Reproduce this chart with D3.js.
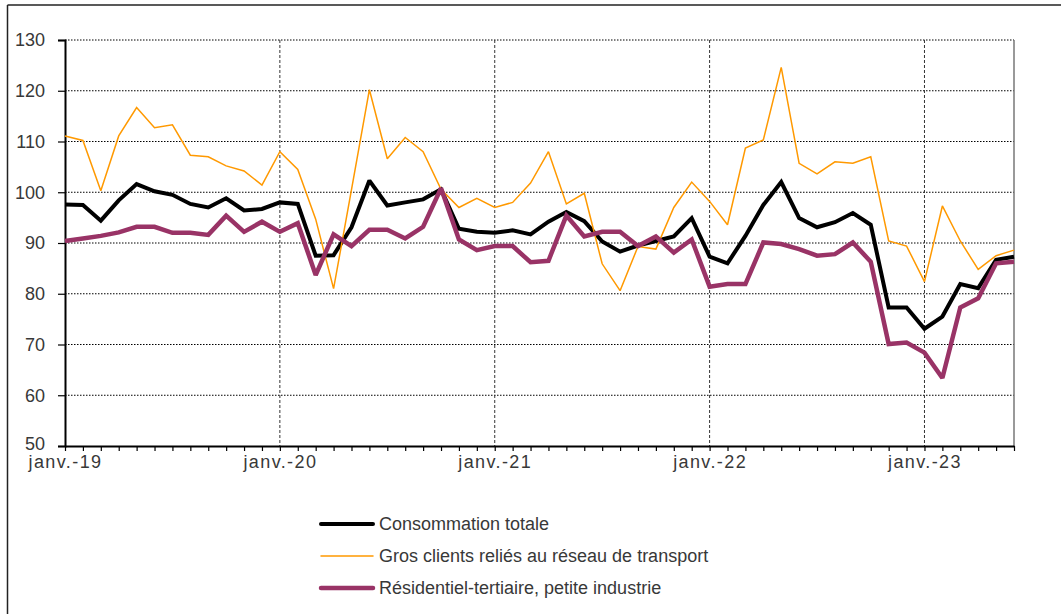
<!DOCTYPE html>
<html>
<head>
<meta charset="utf-8">
<script src="https://cdn.jsdelivr.net/npm/d3@7"></script>
<style>
body { margin: 0; background: #fff; }
text { font-family: "Liberation Sans", Arial, sans-serif; fill: #383838; }
</style>
</head>
<body>
<div id="chart"></div>
<script>

// months jan 2019 -> jun 2023
var months = d3.timeMonth.range(new Date(2019, 0, 1), new Date(2023, 6, 1));
var yearTicks = ["janv.-19", "janv.-20", "janv.-21", "janv.-22", "janv.-23"];
var yTicks = [50, 60, 70, 80, 90, 100, 110, 120, 130];

var totale = [97.6, 97.5, 94.4, 98.4, 101.6, 100.2, 99.5, 97.7, 97.0, 98.8, 96.4, 96.7,
	98.0, 97.7, 87.5, 87.6, 93.1, 102.3, 97.4, 98.0, 98.6, 100.6, 92.8, 92.2,
	92.0, 92.5, 91.7, 94.2, 96.1, 94.3, 90.3, 88.3, 89.5, 90.4, 91.3, 94.9,
	87.3, 86.0, 91.4, 97.5, 102.0, 94.9, 93.1, 94.1, 95.9, 93.6, 77.3, 77.3,
	73.1, 75.5, 81.9, 81.1, 86.7, 87.3];

var grosClients = [111.1, 110.2, 100.3, 111.1, 116.7, 112.7, 113.3, 107.3, 107.0, 105.2, 104.2, 101.4,
	108.0, 104.5, 94.7, 81.0, 100.5, 120.2, 106.6, 110.8, 108.0, 100.6, 97.0, 98.8,
	97.0, 98.0, 101.8, 108.0, 97.7, 99.8, 85.9, 80.6, 89.3, 88.8, 97.0, 102.0,
	98.2, 93.6, 108.7, 110.3, 124.6, 105.7, 103.6, 106.0, 105.7, 107.0, 90.4, 89.4,
	82.4, 97.3, 90.4, 84.8, 87.5, 88.6];

var residentiel = [90.4, 90.9, 91.4, 92.1, 93.2, 93.2, 92.0, 92.0, 91.6, 95.4, 92.2, 94.2,
	92.2, 93.9, 83.7, 91.7, 89.4, 92.6, 92.6, 90.9, 93.2, 100.8, 90.7, 88.6,
	89.4, 89.4, 86.2, 86.5, 95.4, 91.3, 92.2, 92.2, 89.4, 91.3, 88.1, 90.7,
	81.4, 81.9, 81.9, 90.1, 89.8, 88.8, 87.5, 87.8, 90.1, 86.3, 70.1, 70.4,
	68.4, 63.4, 77.3, 79.1, 86.0, 86.3];

var series = [
	{name: "Consommation totale", values: totale, color: "#000000", width: 4},
	{name: "Gros clients reliés au réseau de transport", values: grosClients, color: "#FF9900", width: 1.5},
	{name: "Résidentiel-tertiaire, petite industrie", values: residentiel, color: "#993366", width: 4.5}
];

function drawChart() {
	var W = 1061, H = 614;
	var left = 65, right = 1014, top = 40, bottom = 446;

	var svg = d3.select("#chart").append("svg")
		.attr("width", W)
		.attr("height", H);

	// outer frame (top + left only visible)
	svg.append("line").attr("x1", 7.5).attr("x2", W).attr("y1", 5).attr("y2", 5)
		.attr("stroke", "#222").attr("stroke-width", 1.5);
	svg.append("line").attr("x1", 7.5).attr("x2", 7.5).attr("y1", 5).attr("y2", H)
		.attr("stroke", "#222").attr("stroke-width", 1.5);

	var xScale = d3.scalePoint()
		.domain(d3.range(months.length))
		.range([left, right]);

	var yScale = d3.scaleLinear().domain([50, 130]).range([bottom, top]);

	// horizontal dotted grid
	svg.selectAll("line.hgrid")
		.data(yTicks.filter(function(d){ return d > 50; }))
		.enter()
		.append("line")
		.attr("class", "hgrid")
		.attr("x1", left).attr("x2", right)
		.attr("y1", function(d){ return yScale(d); })
		.attr("y2", function(d){ return yScale(d); })
		.attr("stroke", "#000")
		.attr("stroke-width", 1)
		.attr("stroke-dasharray", "1.5,1.5");

	// january indices
	var janIdx = [];
	for (var i = 0; i < months.length; i++) {
		if (months[i].getMonth() == 0) janIdx.push(i);
	}

	// vertical dashed grid at each january
	svg.selectAll("line.vgrid")
		.data(janIdx.slice(1))
		.enter()
		.append("line")
		.attr("class", "vgrid")
		.attr("x1", function(d){ return xScale(d); })
		.attr("x2", function(d){ return xScale(d); })
		.attr("y1", top).attr("y2", bottom)
		.attr("stroke", "#333")
		.attr("stroke-width", 1)
		.attr("stroke-dasharray", "3,2");

	// right border of plot
	svg.append("line")
		.attr("x1", right).attr("x2", right).attr("y1", top).attr("y2", bottom)
		.attr("stroke", "#777").attr("stroke-width", 1.5);

	// y axis
	var yAxis = d3.axisLeft(yScale)
		.tickValues(yTicks)
		.tickSize(7)
		.tickPadding(13)
		.tickFormat(d3.format("d"));

	var gy = svg.append("g")
		.attr("transform", "translate(" + left + ",0)")
		.call(yAxis);
	gy.select(".domain").attr("stroke", "#000").attr("stroke-width", 2);
	gy.selectAll(".tick line").attr("stroke", "#000").attr("stroke-width", 1.2);
	gy.selectAll(".tick text").attr("font-size", 18).attr("fill", "#383838")
		.attr("font-family", "Liberation Sans, Arial, sans-serif");
	// lowest label sits a bit high so it clears the date labels
	gy.selectAll(".tick text").filter(function(d){ return d == 50; }).attr("dy", "0.2em");

	// x axis
	var xAxis = d3.axisBottom(xScale)
		.tickSize(5)
		.tickSizeOuter(0)
		.tickFormat(function(d){
			var k = janIdx.indexOf(d);
			return k >= 0 ? yearTicks[k] : "";
		});

	var gx = svg.append("g")
		.attr("transform", "translate(0," + bottom + ")")
		.call(xAxis);
	gx.select(".domain").attr("stroke", "#000").attr("stroke-width", 2);
	gx.selectAll(".tick line").attr("stroke", "#000").attr("stroke-width", 1.2);
	gx.selectAll(".tick text")
		.attr("font-size", 18)
		.attr("y", 9)
		.attr("letter-spacing", 1.4)
		.attr("fill", "#383838")
		.attr("font-family", "Liberation Sans, Arial, sans-serif");

	// lines
	var line = d3.line()
		.x(function(d, i){ return xScale(i); })
		.y(function(d){ return yScale(d); });

	svg.selectAll("path.serie")
		.data(series)
		.enter()
		.append("path")
		.attr("class", "serie")
		.attr("d", function(s){ return line(s.values); })
		.attr("fill", "none")
		.attr("stroke", function(s){ return s.color; })
		.attr("stroke-width", function(s){ return s.width; })
		.attr("stroke-linejoin", "miter")
		.attr("stroke-miterlimit", 2);

	// legend
	var legend = svg.selectAll("g.leg")
		.data(series)
		.enter()
		.append("g")
		.attr("class", "leg")
		.attr("transform", function(s, i){ return "translate(321," + (524 + i * 32) + ")"; });

	legend.append("line")
		.attr("x1", 0).attr("x2", 52)
		.attr("y1", 0).attr("y2", 0)
		.attr("stroke", function(s){ return s.color; })
		.attr("stroke-width", function(s){ return s.width; })
		.attr("stroke-linecap", "round");

	legend.append("text")
		.attr("x", 58)
		.attr("y", 0)
		.attr("dy", "0.35em")
		.attr("font-size", 18)
		.text(function(s){ return s.name; });
}

drawChart();
</script>
</body>
</html>
